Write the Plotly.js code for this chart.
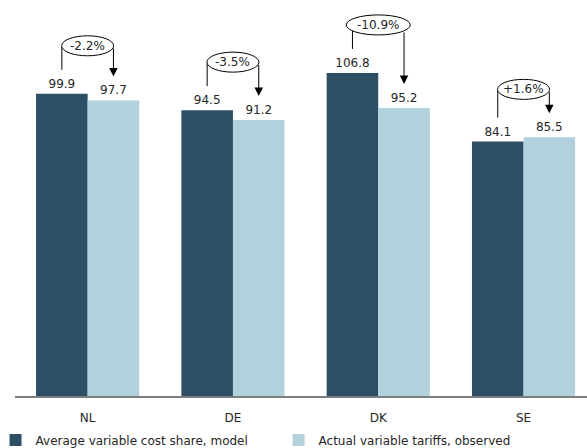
<!DOCTYPE html>
<html><head><meta charset="utf-8">
<script src="https://cdn.plot.ly/plotly-3.0.1.min.js"></script>
<style>html,body{margin:0;padding:0;background:#fff}#chart{width:587px;height:448px}</style>
</head><body><div id="chart"></div>
<script>
const categories = ['NL', 'DE', 'DK', 'SE'];
const modelValues = [99.9, 94.5, 106.8, 84.1];
const observedValues = [97.7, 91.2, 95.2, 85.5];
const changeLabels = ['-2.2%', '-3.5%', '-10.9%', '+1.6%'];
const seriesNames = ['Average variable cost share, model', 'Actual variable tariffs, observed'];

const DARK = '#2d4f65', LIGHT = '#b1d1dc', TXT = '#262626';
const FONT = 'DejaVu Sans';
const M = {l: 15, r: 0, t: 10, b: 52, autoexpand: false};
const W = 587, H = 448;
const plotH = H - M.t - M.b, plotW = W - M.l - M.r;
const yMax = 127.6;
const ppu = plotH / yMax;                 // pixels per data unit (y)
const catPx = 145.3;                      // pixels per category
const xRange = [-0.5, -0.5 + plotW / catPx];
const bargap = 0.29;
const half = (1 - bargap) / 4;            // bar centre offset from category centre
const OFF = 48;                            // oval centre above tallest bar (px)
const GAP = 24;                            // gap between bar top and line end (px)
const OH = 20;                             // oval height (px)

const traces = [
  {type: 'bar', name: seriesNames[0], x: categories, y: modelValues, marker: {color: DARK},
   text: modelValues.map(v => v.toFixed(1)), textposition: 'outside', cliponaxis: false,
   textfont: {family: FONT, size: 12, color: TXT}, hoverinfo: 'skip'},
  {type: 'bar', name: seriesNames[1], x: categories, y: observedValues, marker: {color: LIGHT},
   text: observedValues.map(v => v.toFixed(1)), textposition: 'outside', cliponaxis: false,
   textfont: {family: FONT, size: 12, color: TXT}, hoverinfo: 'skip'}
];

const shapes = [], annotations = [];
categories.forEach((c, i) => {
  const a = modelValues[i], b = observedValues[i];
  const top = Math.max(a, b);
  const ow = 12 * changeLabels[i].length - 8;
  const ra = ow / 2, rb = OH / 2;
  const dx = half * catPx;
  const dy = dx < ra ? rb * Math.sqrt(1 - (dx / ra) ** 2) : 0;
  shapes.push({type: 'line', xref: 'x', yref: 'y', ysizemode: 'pixel', yanchor: a,
    x0: i - half, x1: i - half, y0: GAP, y1: (top - a) * ppu + OFF - dy,
    line: {color: '#000', width: 1}});
  shapes.push({type: 'circle', xref: 'x', yref: 'y', xsizemode: 'pixel', ysizemode: 'pixel',
    xanchor: i, yanchor: top, x0: -ra, x1: ra, y0: OFF - rb, y1: OFF + rb,
    fillcolor: '#fff', line: {color: '#000', width: 1}});
  annotations.push({x: i, y: top, xref: 'x', yref: 'y', yshift: OFF, showarrow: false,
    text: changeLabels[i], font: {family: FONT, size: 12, color: TXT}});
  annotations.push({x: i + half, y: b, xref: 'x', yref: 'y', text: '', showarrow: true,
    ax: 0, ay: -((top - b) * ppu + OFF - dy), standoff: GAP,
    arrowhead: 2, arrowsize: 1.7, arrowwidth: 1, arrowcolor: '#000'});
});

const layout = {
  width: W, height: H, margin: M,
  paper_bgcolor: '#fff', plot_bgcolor: '#fff',
  barmode: 'group', bargap: bargap, bargroupgap: 0,
  font: {family: FONT, size: 12, color: TXT},
  showlegend: true,
  legend: {orientation: 'h', x: -0.034, xanchor: 'left', y: -0.114, yanchor: 'middle',
    entrywidth: 238, font: {family: FONT, size: 12, color: TXT}, traceorder: 'normal'},
  xaxis: {type: 'category', range: xRange, showgrid: false, zeroline: false, automargin: false,
    showline: true, linecolor: '#7f7f7f', linewidth: 1.5, ticks: '', ticklabelstandoff: 10,
    tickfont: {family: FONT, size: 12, color: TXT}},
  yaxis: {range: [0, yMax], visible: false, showgrid: false, zeroline: false, automargin: false},
  shapes: shapes, annotations: annotations
};

Plotly.newPlot('chart', traces, layout, {displayModeBar: false, staticPlot: true});
</script></body></html>
